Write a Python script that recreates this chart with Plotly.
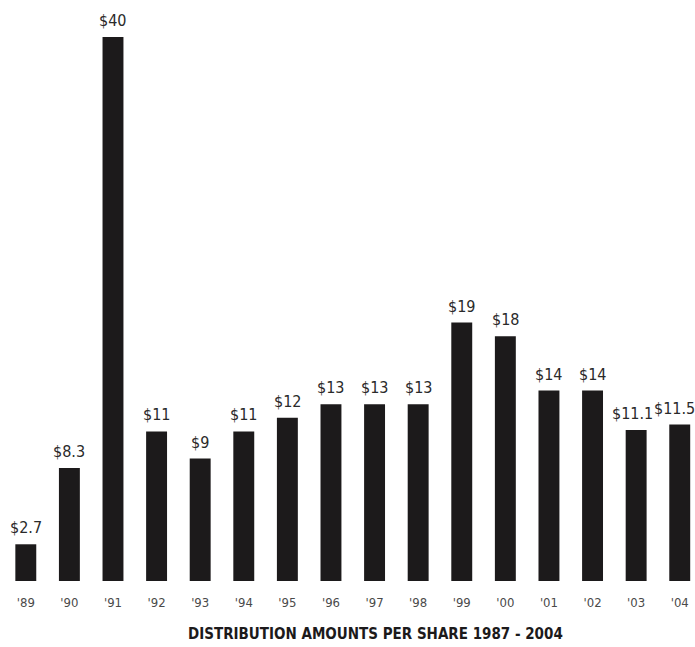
import plotly.graph_objects as go

# Distribution amounts per share, by year
years = ["'89", "'90", "'91", "'92", "'93", "'94", "'95", "'96",
         "'97", "'98", "'99", "'00", "'01", "'02", "'03", "'04"]
amounts = [2.7, 8.3, 40, 11, 9, 11, 12, 13, 13, 13, 19, 18, 14, 14, 11.1, 11.5]
labels = ["$" + (f"{v:g}") for v in amounts]

FONT = "DejaVu Sans Condensed, Liberation Sans Narrow, Arial Narrow, sans-serif"

xs = list(range(len(years)))

fig = go.Figure(
    go.Bar(
        x=xs,
        y=amounts,
        marker=dict(color="#1c1a1b", line=dict(width=0)),
        width=0.48,
        hoverinfo="x+y",
    )
)

# value labels above each bar; the two right-most are nudged left so they
# stay apart and inside the page edge
nudge = {len(xs) - 2: -4, len(xs) - 1: -5}
value_labels = []
for i, (xv, yv, lab) in enumerate(zip(xs, amounts, labels)):
    value_labels.append(dict(
        x=xv, y=yv, xref="x", yref="y",
        text=lab, showarrow=False,
        xanchor="center", yanchor="bottom",
        xshift=nudge.get(i, 0), yshift=5,
        font=dict(family=FONT, size=16, color="#2a2a2a"),
    ))

fig.update_layout(
    width=695,
    height=647,
    margin=dict(l=4, r=0, t=0, b=66),
    paper_bgcolor="white",
    plot_bgcolor="white",
    showlegend=False,
    xaxis=dict(
        range=[-0.5, 15.35],
        tickmode="array",
        tickvals=xs,
        ticktext=years,
        showgrid=False,
        zeroline=False,
        showline=False,
        ticks="",
        ticklabelstandoff=12,
        tickfont=dict(family=FONT, size=13, color="#4a4a4a"),
    ),
    yaxis=dict(
        range=[0, 42.72],
        visible=False,
    ),
    annotations=value_labels + [
        dict(
            text="<b>DISTRIBUTION AMOUNTS PER SHARE 1987 - 2004</b>",
            xref="paper", x=(375 - 4) / 691,
            yref="paper", y=-(634 - 581) / 581,
            xanchor="center", yanchor="middle",
            showarrow=False,
            font=dict(family=FONT, size=15, color="#1c1a1b"),
        )
    ],
)

fig.write_html("out.html")
